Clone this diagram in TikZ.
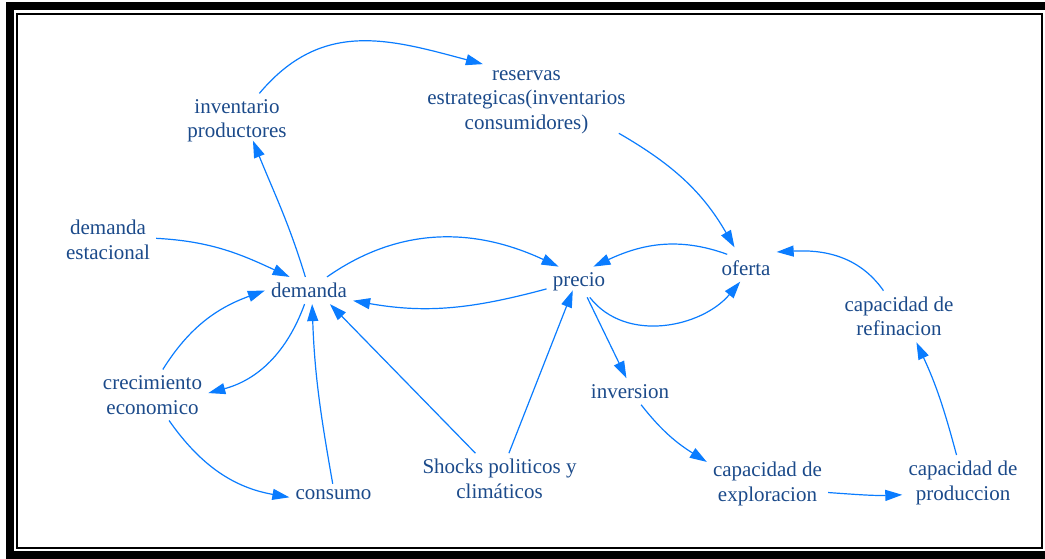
\documentclass[tikz,border=0pt]{standalone}
\usepackage{fontspec}
\setmainfont{Liberation Serif}
\usepackage{xcolor}
\usepackage{tikz}
\usetikzlibrary{arrows.meta}
\definecolor{varblue}{RGB}{27,74,138}
\definecolor{linkblue}{RGB}{10,124,255}
\tikzset{
    varnode/.style = {align=center, inner sep=6pt, text=varblue, font=\fontsize{21}{24.5}\selectfont},
    link/.style = {->, draw=linkblue, line width=1.2pt}
}

\begin{document}
\begin{tikzpicture}
            [>={Triangle[length=17pt, width=11pt]}, x=1pt, y=1pt]

            \useasboundingbox (0,0) rectangle (1045,-558);
            \draw [line width=8pt] (1045,-5.5) -- (10,-5.5) -- (10,-554.5) -- (1045,-554.5);
            \draw [line width=2pt] (17,-13.7) rectangle (1041.5,-548);

            \node [varnode] (ip) at (237,-121) {inventario\\productores};
            \node [varnode] (res) at (526.5,-102) {reservas\\estrategicas(inventarios\\consumidores)};
            \node [varnode] (de) at (108,-240) {demanda\\estacional};
            \node [varnode] (dem) at (309,-290.5) {demanda};
            \node [varnode] (pre) at (579,-282) {precio};
            \node [varnode] (ofe) at (746,-268) {oferta};
            \node [varnode] (ref) at (899,-316.5) {capacidad de\\refinacion};
            \node [varnode] (cre) at (152.5,-395) {crecimiento\\economico};
            \node [varnode] (inv) at (630,-391.5) {inversion};
            \node [varnode] (con) at (333.5,-495) {consumo};
            \node [varnode] (sho) at (499.5,-479) {Shocks politicos y\\climáticos};
            \node [varnode] (exp) at (767.5,-484) {capacidad de\\exploracion};
            \node [varnode] (pro) at (963,-483) {capacidad de\\produccion};

            \draw [link] (ip.51) to [out=50, in=165, looseness=1.1] (res.139);
            \draw [link] (dem.105) to [out=107, in=-68] ([yshift=8pt]ip.-60);
            \draw [link] ([shift={(-13pt,5pt)}]res.-19) to [out=-30, in=120] ([yshift=7pt]ofe.130);
            \draw [link] (de.2) to [out=-3, in=155] (dem.145);
            \draw [link] (dem.37) to [out=35, in=155] (pre.143);
            \draw [link] (pre.192) to [out=195, in=-10] (dem.-13);
            \draw [link] (ofe.144) to [out=160, in=25] (pre.47);
            \draw [link] (pre.-55) to [out=-52, in=-130] (ofe.-113);
            \draw [link] (ref.121) to [out=125, in=3] ([yshift=3pt]ofe.23);
            \draw [link] (pre.-62) -- (inv.105);
            \draw [link] (inv.-50) to [out=-52, in=148] (exp.160);
            \draw [link] (exp.-8) to [out=-4, in=182] (pro.191);
            \draw [link] (pro.103) to [out=105, in=-65] (ref.-56);
            \draw [link] (cre.68) to [out=58, in=200] (dem.180);
            \draw [link] (dem.-108) to [out=-110, in=15] (cre.2);
            \draw [link] (cre.-57) to [out=-55, in=170] (con.183);
            \draw [link] (con.94) to [out=100, in=-88] (dem.-77);
            \draw [link] (sho.133) -- (dem.-33);
            \draw [link] (sho.70) -- ([yshift=7pt]pre.-112);
\end{tikzpicture}
\end{document}
